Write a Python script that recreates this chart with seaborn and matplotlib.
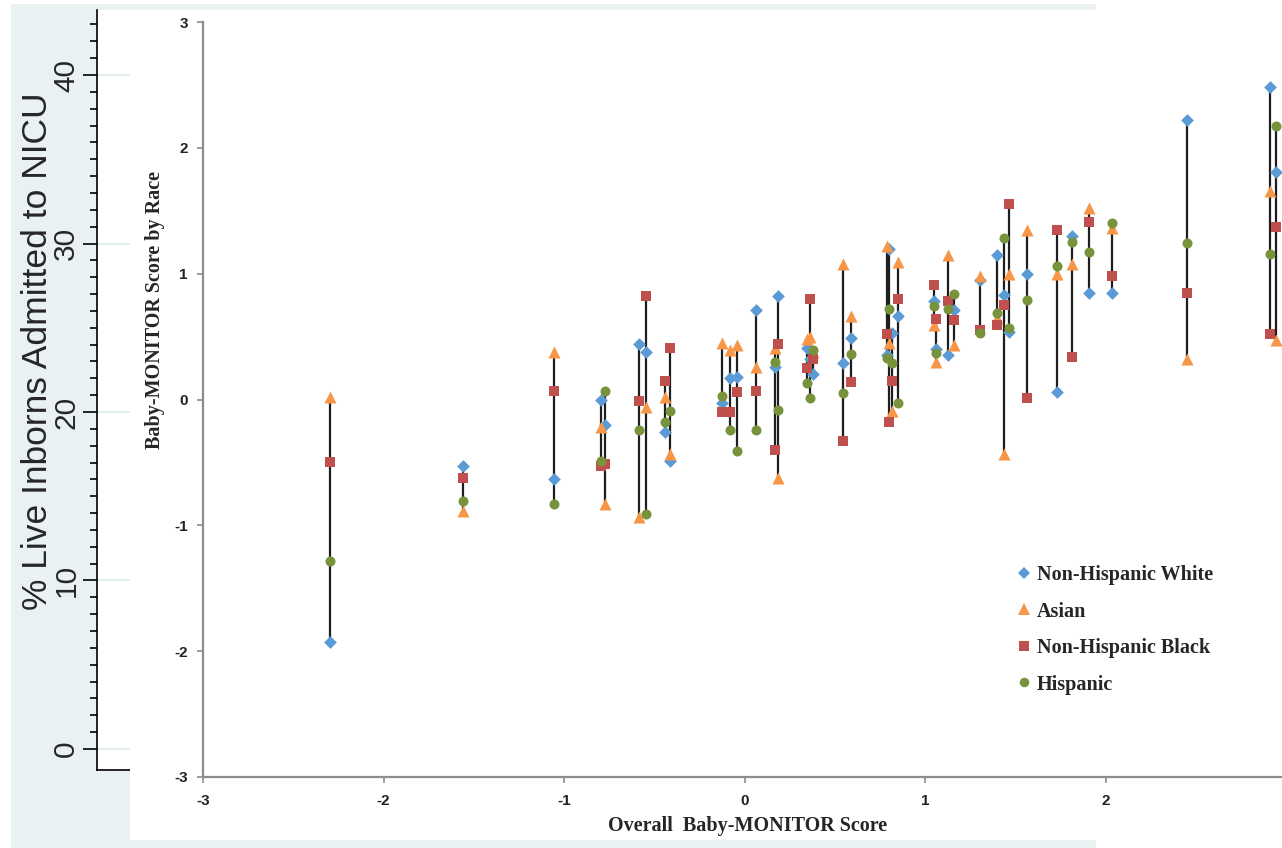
import numpy as np
import pandas as pd
import matplotlib
matplotlib.use("Agg")
import matplotlib.pyplot as plt
from matplotlib.patches import Rectangle
from matplotlib.lines import Line2D
import seaborn as sns

# ---------------- data ----------------
overall = [-2.295, -1.56, -1.053, -0.794, -0.772, -0.587, -0.545, -0.438, -0.41,
           -0.122, -0.079, -0.039, 0.063, 0.168, 0.183, 0.347, 0.364, 0.379,
           0.545, 0.591, 0.790, 0.800, 0.815, 0.850, 1.050, 1.060, 1.128, 1.163,
           1.307, 1.398, 1.44, 1.468, 1.566, 1.73, 1.815, 1.91, 2.035, 2.453,
           2.912, 2.942]
nh_white = [-1.93, -0.53, -0.635, 0.0, -0.2, 0.44, 0.38, -0.26, -0.49,
            -0.03, 0.17, 0.18, 0.71, 0.26, 0.82, 0.41, 0.32, 0.2,
            0.29, 0.49, 0.35, 1.2, 0.53, 0.66, 0.78, 0.4, 0.35, 0.71,
            0.95, 1.15, 0.83, 0.54, 1.0, 0.06, 1.3, 0.85, 0.85, 2.22,
            2.48, 1.81]
asian = [0.02, -0.89, 0.375, -0.22, -0.83, -0.93, -0.06, 0.02, -0.43,
         0.45, 0.39, 0.43, 0.26, 0.41, -0.62, 0.48, 0.5, 0.38,
         1.08, 0.66, 1.22, 0.45, -0.09, 1.09, 0.59, 0.3, 1.15, 0.43,
         0.98, 0.65, -0.43, 1.0, 1.35, 1.0, 1.08, 1.52, 1.36, 0.32,
         1.66, 0.47]
nh_black = [-0.50, -0.62, 0.07, -0.53, -0.51, -0.01, 0.82, 0.15, 0.41,
            -0.1, -0.1, 0.06, 0.07, -0.4, 0.44, 0.25, 0.8, 0.32,
            -0.33, 0.14, 0.52, -0.18, 0.15, 0.8, 0.91, 0.64, 0.78, 0.63,
            0.55, 0.59, 0.75, 1.55, 0.01, 1.35, 0.34, 1.41, 0.98, 0.85,
            0.52, 1.37]
hispanic = [-1.28, -0.81, -0.83, -0.49, 0.07, -0.24, -0.91, -0.18, -0.09,
            0.03, -0.24, -0.41, -0.24, 0.3, -0.08, 0.13, 0.01, 0.39,
            0.05, 0.36, 0.33, 0.72, 0.29, -0.03, 0.74, 0.37, 0.72, 0.84,
            0.53, 0.69, 1.28, 0.57, 0.79, 1.06, 1.25, 1.17, 1.4, 1.24,
            1.16, 2.17]

races = ["Non-Hispanic White", "Asian", "Non-Hispanic Black", "Hispanic"]
colors = ["#5B9BD5", "#F79646", "#C0504D", "#77933C"]
markers = ["D", "^", "s", "o"]
msizes = [42, 75, 48, 52]

bg_yticks = [0, 10, 20, 30, 40]
ov_ticks = [-3, -2, -1, 0, 1, 2, 3]

# ---------------- figure ----------------
W, H = 1282, 848
sns.set_style("white")
plt.rcParams["font.family"] = ["Liberation Sans", "DejaVu Sans"]

fig = plt.figure(figsize=(W / 100, H / 100), dpi=100, facecolor="white")

def fx(px):
    return px / W

def fy(py):
    return 1 - py / H

# light blue-grey background region of the underlying figure
fig.add_artist(Rectangle((fx(11), 0), fx(1096 - 11), (H - 4) / H,
                         transform=fig.transFigure, facecolor="#EAF1F3",
                         edgecolor="none", zorder=-10))

# ---------- underlying chart ----------
ax_bg = fig.add_axes([fx(97), fy(770), fx(1091 - 97), (770 - 10) / H])
ax_bg.set_zorder(0)
ax_bg.set_facecolor("white")
ax_bg.set_ylim(-1.25, 43.86)
ax_bg.set_xlim(0, 1)
ax_bg.set_xticks([])
ax_bg.set_yticks(bg_yticks)
ax_bg.set_yticks(np.arange(0, 44, 1), minor=True)
ax_bg.set_yticklabels([str(v) for v in bg_yticks], rotation=90, va="center",
                      fontsize=21.5)
ax_bg.tick_params(axis="y", which="major", length=10, width=1.2, color="black",
                  direction="out", pad=2, left=True)
ax_bg.tick_params(axis="y", which="minor", length=5, width=1.2, color="black",
                  direction="out", left=True)
for v in bg_yticks:
    ax_bg.axhline(v, color="#E3ECEF", lw=1.5, zorder=0)
for s in ["top", "right"]:
    ax_bg.spines[s].set_visible(False)
ax_bg.spines["left"].set_color("black")
ax_bg.spines["bottom"].set_color("black")
ax_bg.spines["left"].set_linewidth(1.2)
ax_bg.spines["bottom"].set_linewidth(1.2)
ax_bg.set_ylabel("% Live Inborns Admitted to NICU", fontsize=25.5)
ax_bg.yaxis.set_label_coords((38 - 97) / (1091 - 97), (770 - 351) / 760)
ax_bg.yaxis.label.set_va("center")

# white pasted panel
fig.add_artist(Rectangle((fx(130), fy(840)), 1.0, (840 - 10) / H,
                         transform=fig.transFigure, facecolor="white",
                         edgecolor="none", zorder=1))

# ---------- overlay chart ----------
ax = fig.add_axes([fx(203), fy(777), fx(1083), 755 / H])
ax.set_zorder(2)
ax.set_facecolor("none")

wide = pd.DataFrame({"overall": overall, races[0]: nh_white, races[1]: asian,
                     races[2]: nh_black, races[3]: hispanic})
long = wide.melt(id_vars="overall", var_name="race", value_name="score")

rng = long.groupby("overall")["score"].agg(["min", "max"]).reset_index()
ax.vlines(rng["overall"], rng["min"], rng["max"], color="#1e1e1e", lw=1.6,
          zorder=1)

for r, c, m, s in zip(races, colors, markers, msizes):
    sub = long[long["race"] == r]
    sns.scatterplot(data=sub, x="overall", y="score", color=c, marker=m, s=s,
                    linewidth=0, ax=ax, zorder=3, legend=False)

ax.set_xlim(-3, 3)
ax.set_ylim(-3, 3)
ax.set_xticks(ov_ticks)
ax.set_yticks(ov_ticks)
ax.set_xticklabels([str(t) for t in ov_ticks], fontsize=11, fontweight="bold",
                   color="#222222")
ax.set_yticklabels([str(t) for t in ov_ticks], fontsize=11, fontweight="bold",
                   color="#222222")
ax.tick_params(axis="both", length=4, width=1.2, color="#8C8C8C",
               direction="out", bottom=True, left=True)
ax.tick_params(axis="x", pad=8)
ax.tick_params(axis="y", pad=7)
for s in ["top", "right"]:
    ax.spines[s].set_visible(False)
for s in ["left", "bottom"]:
    ax.spines[s].set_color("#8C8C8C")
    ax.spines[s].set_linewidth(1.6)

serif_bold = {"family": ["Liberation Serif", "DejaVu Serif"], "weight": "bold",
              "size": 14.5}
ax.set_xlabel("Overall  Baby-MONITOR Score", fontdict=serif_bold)
ax.xaxis.set_label_coords((748 - 203) / 1083, -(826 - 777) / 755)
ax.xaxis.label.set_va("center")
ax.set_ylabel("Baby-MONITOR Score by Race", fontdict=serif_bold)
ax.yaxis.set_label_coords((155 - 203) / 1083, (777 - 310) / 755)
ax.yaxis.label.set_va("center")

handles = [Line2D([], [], linestyle="none", marker=m, color=c,
                  markersize=np.sqrt(s) * 0.95, markeredgewidth=0)
           for c, m, s in zip(colors, markers, msizes)]
ax.legend(handles, races, loc="upper left",
          bbox_to_anchor=(fx(1016), fy(565)), bbox_transform=fig.transFigure,
          frameon=False, borderpad=0, borderaxespad=0, handlelength=0.8,
          handletextpad=0.25, labelspacing=0.82,
          prop={"family": "Liberation Serif", "weight": "bold", "size": 14.5})

fig.savefig("out.png", dpi=100, facecolor="white")
